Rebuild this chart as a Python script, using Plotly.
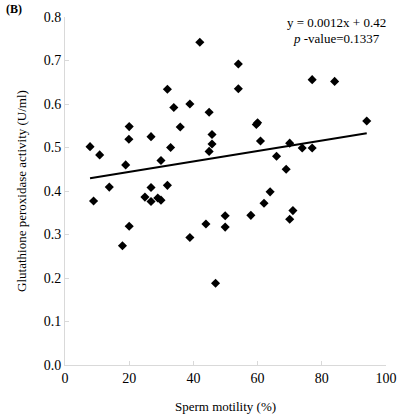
import plotly.graph_objects as go

motility = [7.8, 8.9, 10.8, 13.8, 17.9, 18.9, 19.9, 20.0, 20.0, 24.9,
            26.8, 26.8, 26.8, 28.9, 29.9, 29.9, 31.9, 31.9, 32.9, 33.9,
            35.9, 38.9, 38.9, 42.0, 43.9, 44.9, 44.9, 45.8, 45.8, 46.9,
            49.9, 49.9, 54.0, 54.0, 57.9, 59.6, 60.0, 60.9, 62.0, 63.9,
            65.9, 68.9, 70.0, 70.0, 71.0, 73.9, 77.0, 77.0, 84.0, 94.0]
gpx = [0.502, 0.377, 0.483, 0.409, 0.274, 0.460, 0.519, 0.548, 0.319, 0.386,
       0.525, 0.408, 0.376, 0.384, 0.379, 0.470, 0.634, 0.413, 0.500, 0.592,
       0.547, 0.600, 0.293, 0.742, 0.324, 0.581, 0.491, 0.530, 0.508, 0.188,
       0.343, 0.317, 0.692, 0.635, 0.344, 0.553, 0.557, 0.515, 0.372, 0.398,
       0.480, 0.450, 0.510, 0.335, 0.355, 0.499, 0.656, 0.499, 0.652, 0.561]

slope = 0.0012
intercept = 0.42
x_ticks = [0, 20, 40, 60, 80, 100]
y_ticks = [0.0, 0.1, 0.2, 0.3, 0.4, 0.5, 0.6, 0.7, 0.8]

line_x = [min(motility), max(motility)]
line_y = [slope * v + intercept for v in line_x]

font_family = "Liberation Serif"

fig = go.Figure()
fig.add_trace(go.Scatter(x=motility, y=gpx, mode="markers",
                         marker=dict(symbol="diamond", size=7, color="black"),
                         showlegend=False))
fig.add_trace(go.Scatter(x=line_x, y=line_y, mode="lines",
                         line=dict(color="black", width=2), showlegend=False))

axis_common = dict(showgrid=False, zeroline=False, showline=True, linecolor="#d9d9d9",
                   linewidth=1, ticks="inside", ticklen=4, tickcolor="#d9d9d9",
                   automargin=False,
                   tickfont=dict(family=font_family, size=14, color="black"))

fig.update_xaxes(range=[0, 100], tickvals=x_ticks, ticktext=[str(t) for t in x_ticks],
                 title=dict(text="Sperm motility (%)", font=dict(family=font_family, size=13, color="black"),
                            standoff=17),
                 **axis_common)
fig.update_yaxes(range=[0, 0.8], tickvals=y_ticks, ticktext=[f"{t:.1f}" for t in y_ticks],
                 title=dict(text="Glutathione peroxidase activity (U/ml)",
                            font=dict(family=font_family, size=13, color="black"), standoff=14),
                 **axis_common)

fig.add_annotation(xref="paper", yref="paper", x=0.845, y=1.0, xanchor="center", yanchor="bottom",
                   text=f"y = {slope}x + {intercept}", showarrow=False,
                   font=dict(family=font_family, size=13, color="black"), yshift=-15)
fig.add_annotation(xref="paper", yref="paper", x=0.845, y=1.0, xanchor="center", yanchor="bottom",
                   text="<i>p</i> -value=0.1337", showarrow=False,
                   font=dict(family=font_family, size=13, color="black"), yshift=-31)
fig.add_annotation(xref="paper", yref="paper", x=-0.19, y=1.0, xanchor="left", yanchor="bottom",
                   text="<b>(B)</b>", showarrow=False,
                   font=dict(family=font_family, size=12, color="black"), yshift=-1)

fig.update_layout(width=399, height=418, margin=dict(l=65, r=13, t=17, b=53),
                  plot_bgcolor="white", paper_bgcolor="white",
                  font=dict(family=font_family, color="black"))

fig.write_html("out.html", config={"displayModeBar": False},
               post_script="document.body.style.margin='0';")
